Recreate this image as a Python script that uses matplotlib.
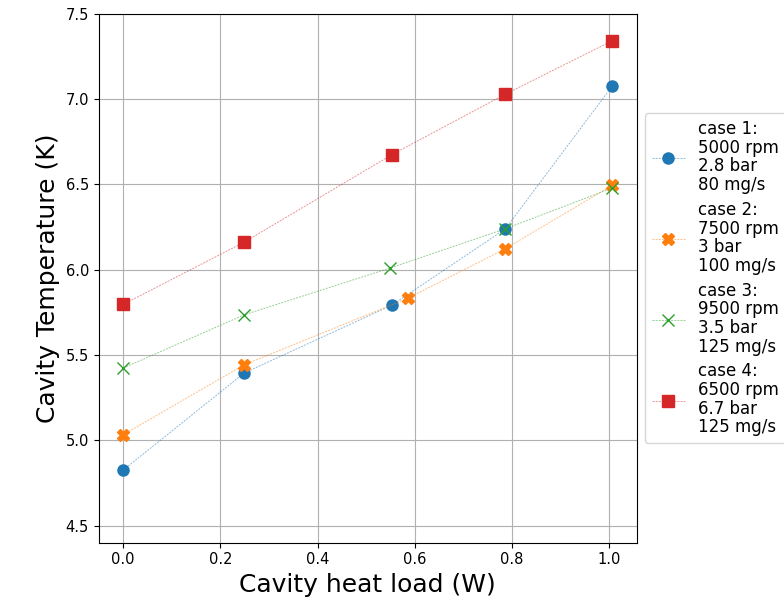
import matplotlib.pyplot as plt
from matplotlib.colors import to_rgba
import numpy as np

# cavity heat load (W) per case
q1 = [0.0, 0.249, 0.553, 0.786, 1.006]
q2 = [0.0, 0.249, 0.585, 0.786, 1.006]
q3 = [0.0, 0.249, 0.549, 0.786, 1.006]
q4 = [0.0, 0.249, 0.553, 0.786, 1.006]

# cavity temperature (K) per case
t1 = [4.826, 5.395, 5.793, 6.239, 7.076]
t2 = [5.033, 5.443, 5.832, 6.123, 6.495]
t3 = [5.424, 5.736, 6.010, 6.240, 6.479]
t4 = [5.797, 6.162, 6.675, 7.029, 7.342]

labels = [
    "case 1:\n5000 rpm\n2.8 bar\n80 mg/s",
    "case 2:\n7500 rpm\n3 bar\n100 mg/s",
    "case 3:\n9500 rpm\n3.5 bar\n125 mg/s",
    "case 4:\n6500 rpm\n6.7 bar\n125 mg/s",
]

fig = plt.figure(figsize=(7.84, 6.03), dpi=100)
ax = fig.add_axes([0.126, 0.1, 0.686, 0.877])

series = [(q1, t1, "o"), (q2, t2, "X"), (q3, t3, "x"), (q4, t4, "s")]
colors = ["tab:blue", "tab:orange", "tab:green", "tab:red"]
for (q, t, m), c, lab in zip(series, colors, labels):
    ax.plot(q, t, linestyle=(0, (2, 1.2)), linewidth=0.7, color=to_rgba(c, 0.5),
            marker=m, markersize=8, markerfacecolor=c, markeredgecolor=c,
            label=lab)

ax.set_ylim(4.4, 7.5)
ax.grid(True)
ax.set_xlabel("Cavity heat load (W)", fontsize=18)
ax.set_ylabel("Cavity Temperature (K)", fontsize=18)
ax.tick_params(labelsize=10.5)
leg = ax.legend(loc="center left", bbox_to_anchor=(1, 0.5), fontsize=12,
                labelspacing=0.4)
for txt in leg.get_texts():
    txt.set_linespacing(1.05)

fig.savefig("out.png", dpi=100)
